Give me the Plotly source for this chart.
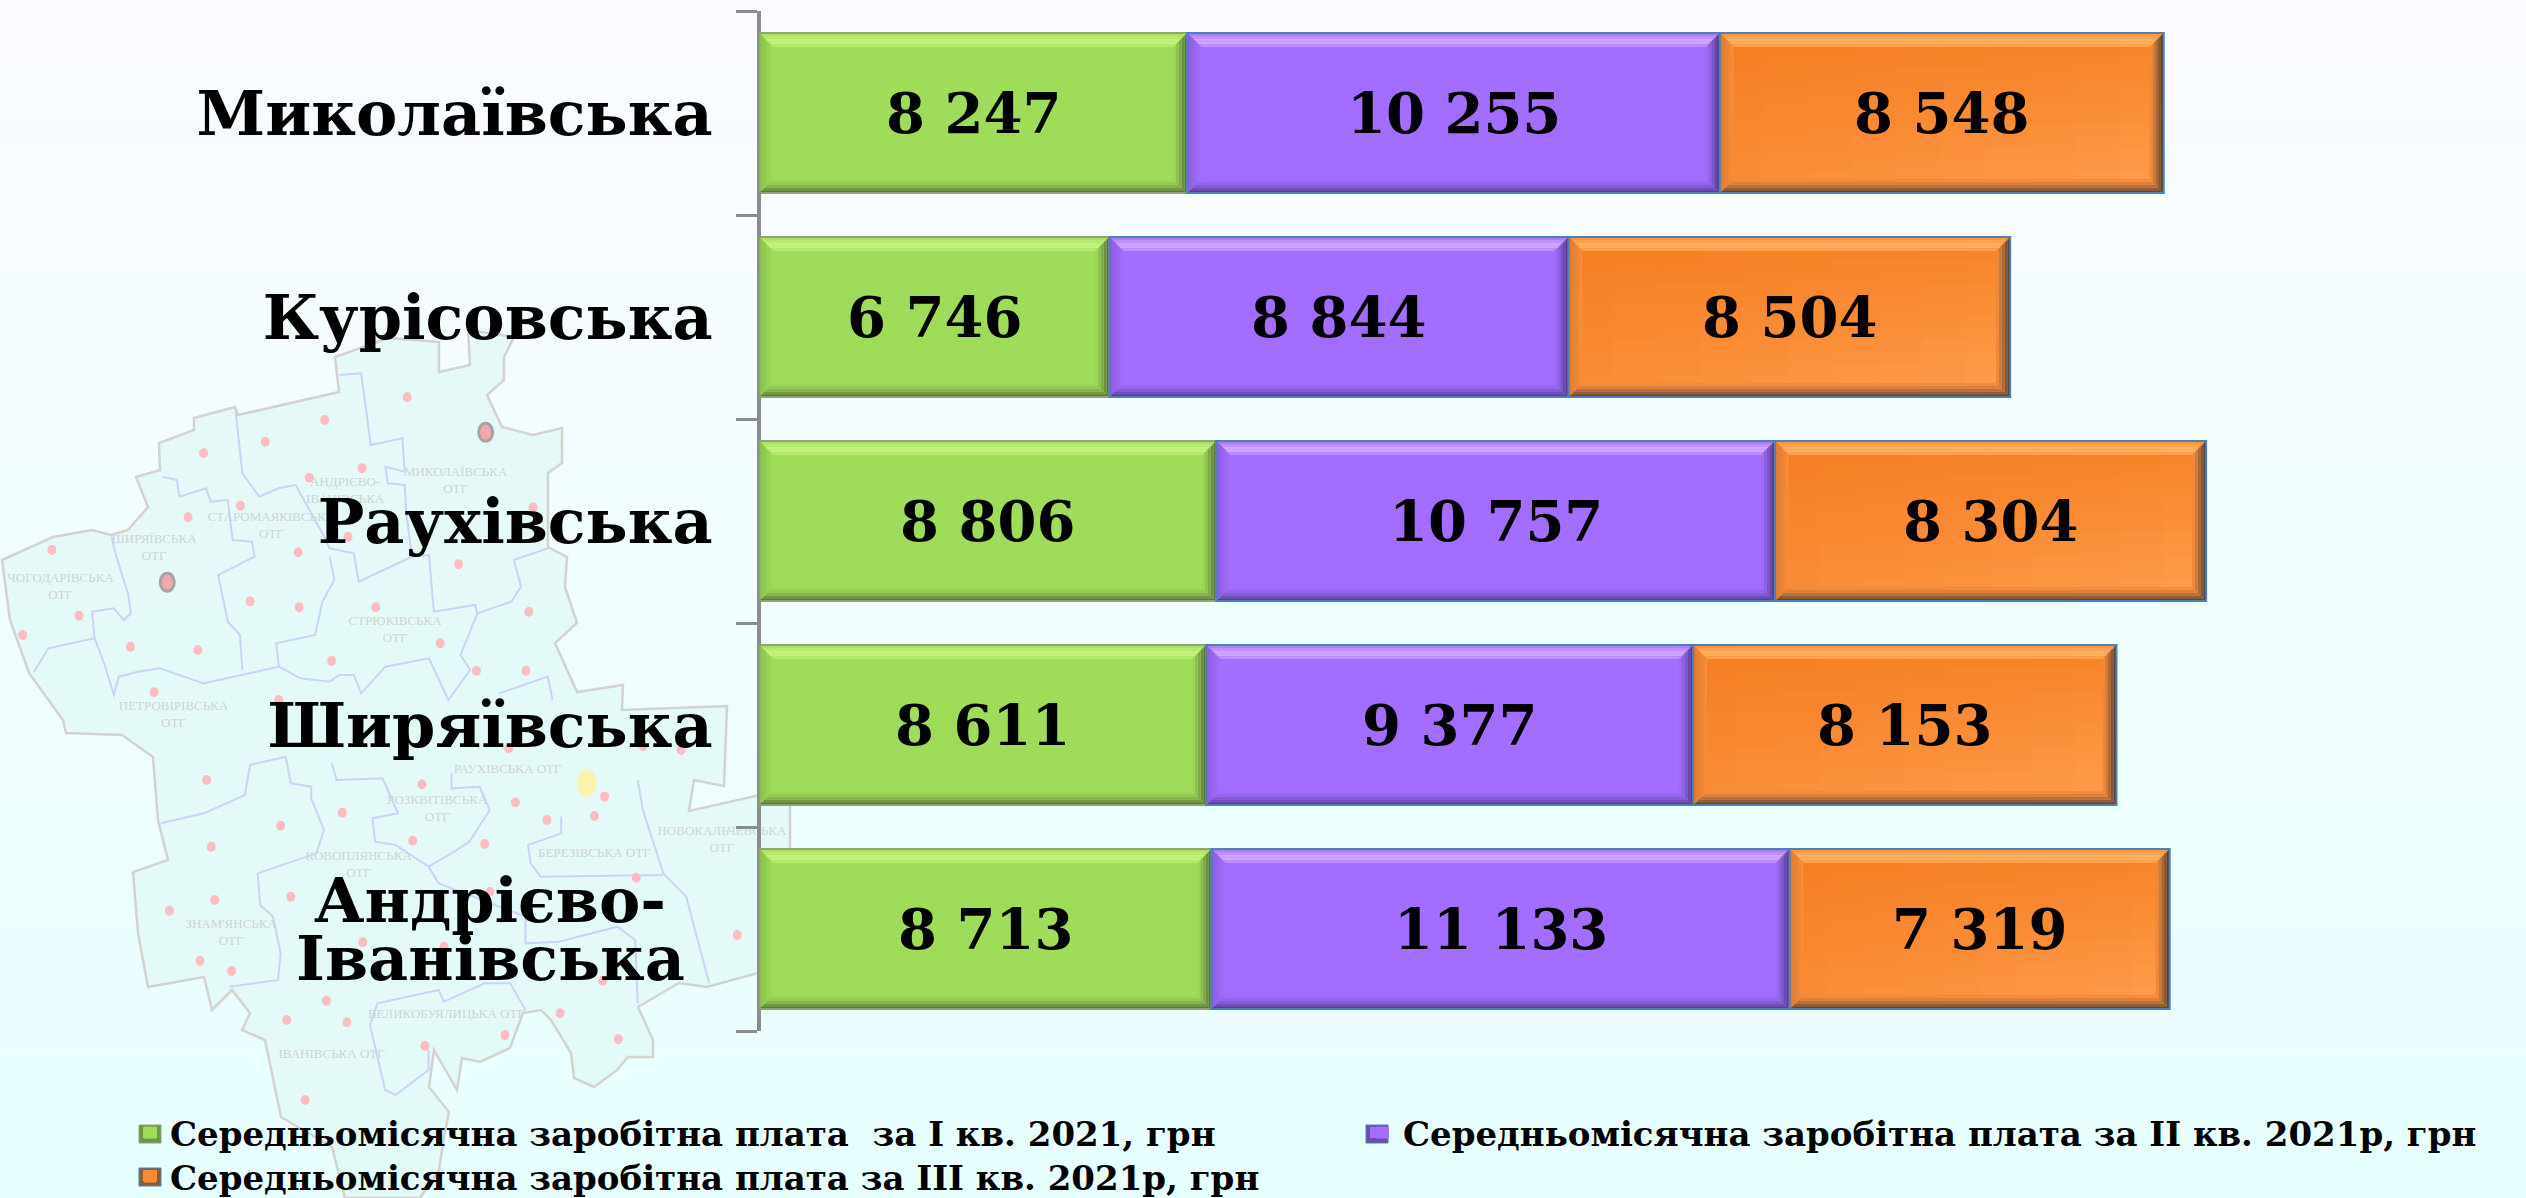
import plotly.graph_objects as go

W, H = 2526, 1198

categories = ["Миколаївська", "Курісовська", "Раухівська", "Ширяївська", "Андрієво-Іванівська"]
tick_labels = ["Миколаївська", "Курісовська", "Раухівська", "Ширяївська", " "]
wrapped_label_lines = ["Андрієво-", "Іванівська"]
q1 = [8247, 6746, 8806, 8611, 8713]
q2 = [10255, 8844, 10757, 9377, 11133]
q3 = [8548, 8504, 8304, 8153, 7319]
series_names = ["Середньомісячна заробітна плата  за І кв. 2021, грн",
                "Середньомісячна заробітна плата за ІІ кв. 2021р, грн",
                "Середньомісячна заробітна плата за ІІІ кв. 2021р, грн"]
series = [q1, q2, q3]
fills = ["#9FDC5A", "#A36EFF", "#F98A35"]

FONT = "DejaVu Serif"
AX_LEFT = 759
PX_PER_UNIT = 0.05193
BARGAP = 0.215
BEVEL_PX = 14
CAT_PX = 204
AX_TOP, AX_BOTTOM = 11, 1031


def fmt(v):
    return f"{v:,}".replace(",", " ")


def px(x, y):
    return x / W, 1 - y / H


def z5(p):
    return (p[0] / 2.063, 300 + p[1] / 3)


def z6(p):
    return (p[0] / 1.96, 720 + p[1] / 3)


def open_path(points):
    return "M " + " L ".join(f"{a:.5f},{b:.5f}" for a, b in (px(*p) for p in points))


def hexrgb(h):
    return tuple(int(h[i:i + 2], 16) for i in (1, 3, 5))


def mix(a, b, t):
    a, b = hexrgb(a), hexrgb(b)
    return "rgb(%d,%d,%d)" % tuple(round(a[k] + (b[k] - a[k]) * t) for k in range(3))


shapes = []

# page background gradient
top, bot = (249, 251, 255), (232, 255, 255)
N = 40
for i in range(N):
    t = i / (N - 1)
    c = tuple(round(top[k] + (bot[k] - top[k]) * t) for k in range(3))
    shapes.append(dict(type="rect", xref="paper", yref="paper", x0=0, x1=1,
                       y0=1 - (i + 1) / N - 0.001, y1=1 - i / N,
                       fillcolor=f"rgb{c}", line_width=0, layer="below"))

# faint district map behind the chart
outline = [(2,560),(53,537),(92,530),(111,535),(128,530),(148,507),(136,477),(160,470),(159,443),(194,430),(194,418),
 (235,407),(238,415),(339,392),(335,357),(388,338),(439,342),(439,372),(470,365),(468,330),(514,337),(504,357),
 (504,380),(487,395),(502,427),(533,435),(562,428),(562,463),(548,473),(548,547),(567,557),(565,587),(577,623),
 (555,643),(577,692),(623,685),(622,710),(727,706),(724,786),(694,780),(689,811),(760,795),(790,800),(790,880),
 (758,973),(707,987),(679,983),(638,1007),(653,1040),(653,1057),(628,1057),(617,1070),(594,1087),(574,1078),
 (571,1053),(551,1020),(541,1010),(523,1013),(510,1048),(480,1062),(462,1058),(457,1090),(434,1050),(429,1087),
 (449,1112),(444,1137),(439,1170),(420,1198),(345,1198),(332,1147),(281,1117),(265,1040),(242,1030),(250,1013),
 (232,990),(212,1010),(204,977),(148,987),(138,933),(133,872),(168,860),(158,820),(153,757),(122,735),(66,733),
 (63,720),(29,673),(10,620)]
shapes.append(dict(type="path", path=open_path(outline) + " Z", xref="paper", yref="paper", layer="below",
                   fillcolor="rgba(224,248,245,0.75)", line=dict(color="#D4D2CE", width=2.5)))
inner5 = [
 [(700,225),(745,220),(765,435),(830,415),(835,515),(795,500),(800,550),(835,555),(838,640),(850,770),(740,845),
  (730,760),(680,745),(665,700),(610,555),(575,565),(535,590),(500,520),(485,320)],
 [(335,530),(365,540),(370,590),(425,565),(435,605),(470,600),(480,720),(520,725),(525,770),(450,825),(470,965),
  (495,1005),(500,1110)],
 [(230,710),(240,770),(265,885),(270,940),(255,960),(235,925),(190,935),(195,1015),(100,1045),(70,1115)],
 [(195,1015),(215,1090),(235,1185),(245,1130),(285,1115),(330,1105),(420,1150),(575,1100),(570,1030),(650,1005),
  (665,905),(690,840),(680,770)],
 [(850,770),(885,765),(895,935),(980,915),(985,940),(1055,905),(1075,860),(1060,780),(1130,745)],
 [(985,940),(950,1065),(970,1110),(925,1200),(885,1075),(795,1100),(745,1180),(730,1125),(700,1125),(680,1145),
  (620,1135),(575,1100)],
 [(1030,1180),(1130,1130),(1140,1200)],
]
inner6 = [
 [(315,310),(400,280),(480,225),(490,135),(560,110),(570,190),(610,200),(610,235),(635,330),(620,400),(505,460),
  (510,555),(535,590),(550,700),(545,780),(450,800)],
 [(650,130),(660,180),(750,175),(780,280),(730,295),(735,365),(775,375),(840,440),(890,395),(920,365),(960,270),
  (940,200),(885,205),(885,160)],
 [(840,440),(860,490),(1030,590),(1030,670),(1095,665),(1210,620),(1245,660),(1250,850)],
 [(1250,180),(1260,270),(1300,460),(1345,530),(1390,790)],
 [(1100,290),(1100,340),(1035,375),(1040,430),(1060,470),(1300,465)],
 [(725,915),(740,850),(860,810),(870,845),(950,790),(1000,790),(1030,870)],
 [(725,915),(755,1110),(775,1125),(840,1050),(840,990)],
]
for line in [[z5(p) for p in l] for l in inner5] + [[z6(p) for p in l] for l in inner6]:
    shapes.append(dict(type="path", path=open_path(line), xref="paper", yref="paper", layer="below",
                       line=dict(color="#CBD2F6", width=2)))
dots5 = [(107,750),(47,1005),(163,947),(269,1040),(408,1050),(388,652),(420,460),(547,425),(670,360),(638,533),
 (747,505),(840,292),(496,617),(615,757),(516,904),(617,922),(718,710),(946,793),(775,922),(908,1030),(684,1083),
 (983,1112),(1085,1112),(1091,935),(1100,622),(318,1177),(575,1200)]
dots6 = [(405,180),(550,317),(414,380),(671,278),(827,193),(809,362),(950,372),(1010,247),(1072,300),(1185,230),
 (1165,288),(1247,473),(1260,78),(1335,90),(997,85),(1445,645),(570,530),(421,540),(332,572),(392,722),(454,753),
 (711,667),(870,680),(960,515),(1181,782),(640,842),(562,900),(680,907),(1098,880),(990,945),(833,978),(1212,958),
 (598,1140)]


def ellipse(cx, cy, rx, ry, col, line=None):
    xa, ya = px(cx - rx, cy - ry)
    xb, yb = px(cx + rx, cy + ry)
    shapes.append(dict(type="circle", xref="paper", yref="paper", x0=xa, x1=xb, y0=ya, y1=yb, fillcolor=col,
                       line=dict(color=line or col, width=3 if line else 0), layer="below"))


for a, b in [z5(p) for p in dots5] + [z6(p) for p in dots6]:
    ellipse(a, b, 4.5, 5, "#FBBDC2")
for p in [(1002, 397), (345, 847)]:
    a, b = z5(p)
    ellipse(a, b, 7, 9, "#F2A9AE", "#A8A3A3")
a, b = z6((1150, 190))
ellipse(a, b, 10, 14, "#F8F4B0")

annotations = []
map_labels5 = [((940,545),"МИКОЛАЇВСЬКА<br>ОТГ"), ((712,575),"АНДРІЄВО-<br>ІВАНІВСЬКА"), ((560,680),"СТАРОМАЯКІВСЬКА<br>ОТГ"),
 ((318,745),"ШИРЯЇВСЬКА<br>ОТГ"), ((125,863),"ЧОГОДАРІВСЬКА<br>ОТГ"), ((815,990),"СТРЮКІВСЬКА<br>ОТГ"),
 ((358,1245),"ПЕТРОВІРІВСЬКА<br>ОТГ")]
map_labels6 = [((995,150),"РАУХІВСЬКА ОТГ"), ((857,268),"РОЗКВІТІВСЬКА<br>ОТГ"), ((703,437),"КОВОПЛЯНСЬКА<br>ОТГ"),
 ((453,640),"ЗНАМ'ЯНСЬКА<br>ОТГ"), ((1165,400),"БЕРЕЗІВСЬКА ОТГ"), ((1415,362),"НОВОКАЛЬЧЕВСЬКА<br>ОТГ"),
 ((875,885),"ВЕЛИКОБУЯЛИЦЬКА ОТГ"), ((650,1003),"ІВАНІВСЬКА ОТГ")]
map_points = [(z5(p), t) for p, t in map_labels5] + [(z6(p), t) for p, t in map_labels6]

# bevels on each bar segment, derived from the values
ux = BEVEL_PX / PX_PER_UNIT
half = (1 - BARGAP) / 2
uy = BEVEL_PX / CAT_PX
bevels = [
    dict(fill="#9FDC5A", light="#CBF784", dark="#53663A", left="#86BC4A", edge="#8FA377"),
    dict(fill="#A36EFF", light="#D8B0FF", dark="#483680", left="#8A5CDE", edge="#4F7FB5"),
    dict(fill="#FA8E3A", light="#FFB768", dark="#3E3A3A", left="#D97A30", edge="#4F7FB5"),
]
RINGS = 5


def poly(pts, col):
    d = "M " + " L ".join(f"{p},{q}" for p, q in pts) + " Z"
    shapes.append(dict(type="path", path=d, xref="x2", yref="y2", fillcolor=col, line_width=0, layer="above"))


for s_idx, vals in enumerate(series):
    b = bevels[s_idx]
    for i, v in enumerate(vals):
        base = sum(series[k][i] for k in range(s_idx))
        x0, x1 = base, base + v
        y0, y1 = i - half, i + half  # y0 is the visual top edge: the axis is reversed
        if s_idx == 2:
            M = 14
            for m in range(M):
                shapes.append(dict(type="rect", xref="x2", yref="y2", x0=x0, x1=x1,
                                   y0=y0 + (y1 - y0) * m / M, y1=y0 + (y1 - y0) * (m + 1) / M + 0.002,
                                   fillcolor=mix("#F78428", "#FF9E4E", m / (M - 1)), line_width=0, layer="above"))
            C = 10
            for m in range(C):
                shapes.append(dict(type="rect", xref="x2", yref="y2", x0=x0 + v * m / C, x1=x0 + v * (m + 1) / C,
                                   y0=y0, y1=y1, fillcolor=f"rgba(243,118,24,{0.4 * (1 - m / C):.3f})",
                                   line_width=0, layer="above"))
        for r in range(RINGS):
            t = (r + 0.5) / RINGS
            a0, a1 = r / RINGS, (r + 1) / RINGS
            X0, X1 = x0 + ux * a0, x1 - ux * a0
            Y0, Y1 = y0 + uy * a0, y1 - uy * a0
            XI0, XI1 = x0 + ux * a1, x1 - ux * a1
            YI0, YI1 = y0 + uy * a1, y1 - uy * a1
            peak = 1 - abs(t - 0.6) / 0.6
            poly([(X0, Y0), (X1, Y0), (XI1, YI0), (XI0, YI0)], mix(b["fill"], b["light"], peak))
            poly([(X0, Y1), (X1, Y1), (XI1, YI1), (XI0, YI1)], mix(b["fill"], b["dark"], (1 - t) ** 1.5))
            poly([(X0, Y0), (XI0, YI0), (XI0, YI1), (X0, Y1)], mix(b["fill"], b["left"], 1 - t))
            poly([(X1, Y0), (XI1, YI0), (XI1, YI1), (X1, Y1)], mix(b["fill"], b["dark"], (1 - t) ** 1.2))
        shapes.append(dict(type="rect", xref="x2", yref="y2", x0=x0, x1=x1, y0=y0, y1=y1,
                           fillcolor="rgba(0,0,0,0)", line=dict(color=b["edge"], width=2), layer="above"))

# larger bevelled swatches underneath the native legend keys
swatches = [(139, 1125, 0), (1366, 1125, 1), (139, 1168, 2)]
for sx, sy, k in swatches:
    b = bevels[k]
    xa, ya = px(sx, sy)
    xb, yb = px(sx + 22, sy + 18)
    shapes.append(dict(type="rect", xref="paper", yref="paper", x0=xa, x1=xb, y0=yb, y1=ya,
                       fillcolor=mix(b["fill"], b["dark"], 0.6),
                       line=dict(color=b["edge"], width=1), layer="below"))
    xa, ya = px(sx + 4, sy + 2)
    xb, yb = px(sx + 18, sy + 13)
    shapes.append(dict(type="rect", xref="paper", yref="paper", x0=xa, x1=xb, y0=yb, y1=ya,
                       fillcolor=b["fill"], line_width=0, layer="below"))

fig = go.Figure()
# map captions use the first, page-sized pixel subplot, which is drawn under the chart's own subplot
fig.add_trace(go.Scatter(
    x=[p[0] for p, _ in map_points], y=[p[1] for p, _ in map_points], text=[t for _, t in map_points],
    mode="text", showlegend=False, hoverinfo="skip", cliponaxis=False,
    textposition="middle center", textfont=dict(family="Liberation Serif", size=13, color="#CFD3D2")))

legends = ["legend", "legend2", "legend3"]
for name, vals, col, lg in zip(series_names, series, fills, legends):
    fig.add_trace(go.Bar(y=categories, x=vals, name=name, orientation="h", legend=lg, xaxis="x2", yaxis="y2",
                         marker=dict(color=col, line_width=0), hoverinfo="x+y+name", showlegend=True))

# value labels sit above the bevel shapes, so they are placed as annotations from the values
for s_idx, vals in enumerate(series):
    for i, v in enumerate(vals):
        base = sum(series[k][i] for k in range(s_idx))
        annotations.append(dict(xref="x2", yref="y2", x=base + v / 2, y=i, text=fmt(v), showarrow=False,
                                xanchor="center", yanchor="middle",
                                font=dict(family=FONT, size=56, color="black", weight="bold")))

# the two-line category label is centred with a tighter line pitch than <br> gives
for line, shift in zip(wrapped_label_lines, (29, -29)):
    annotations.append(dict(xref="paper", yref="y2", x=490 / W, y=4, yshift=shift, text=line, showarrow=False,
                            xanchor="center", yanchor="middle",
                            font=dict(family=FONT, size=62, color="black", weight="bold")))

legend_font = dict(family=FONT, size=34, color="black", weight="bold")


def legend_at(x, y):
    return dict(x=x / W, xanchor="left", y=1 - y / H, yanchor="middle", font=legend_font,
                bgcolor="rgba(0,0,0,0)", itemclick=False, itemdoubleclick=False)


fig.update_layout(
    width=W, height=H, barmode="stack", bargap=BARGAP, shapes=shapes, annotations=annotations,
    margin=dict(l=0, r=0, t=0, b=0, autoexpand=False), paper_bgcolor="#F4FBFF", plot_bgcolor="rgba(0,0,0,0)",
    font=dict(family=FONT, color="black"),
    xaxis=dict(domain=[0, 1], range=[0, W], visible=False, fixedrange=True),
    yaxis=dict(domain=[0, 1], range=[H, 0], visible=False, fixedrange=True),
    xaxis2=dict(domain=[AX_LEFT / W, 1], range=[0, (W - AX_LEFT) / PX_PER_UNIT], visible=False, anchor="y2"),
    yaxis2=dict(domain=[1 - AX_BOTTOM / H, 1 - AX_TOP / H], type="category", categoryorder="array",
                categoryarray=categories, autorange=False, range=[4.5, -0.5],
                tickmode="array", tickvals=categories, ticktext=tick_labels,
                anchor="free", position=AX_LEFT / W,
                tickson="boundaries", ticks="outside", ticklen=21, tickwidth=3, tickcolor="#8C8C8C",
                showline=True, linewidth=4, linecolor="#8C8C8C", showgrid=False, zeroline=False,
                ticklabelstandoff=32,
                tickfont=dict(family=FONT, size=62, color="black", weight="bold")),
    legend=legend_at(130, 1133), legend2=legend_at(1363, 1133), legend3=legend_at(130, 1177),
)
fig.write_html("out.html", config=dict(displayModeBar=False),
               post_script="document.body.style.margin='0';document.documentElement.style.overflow='hidden';")
